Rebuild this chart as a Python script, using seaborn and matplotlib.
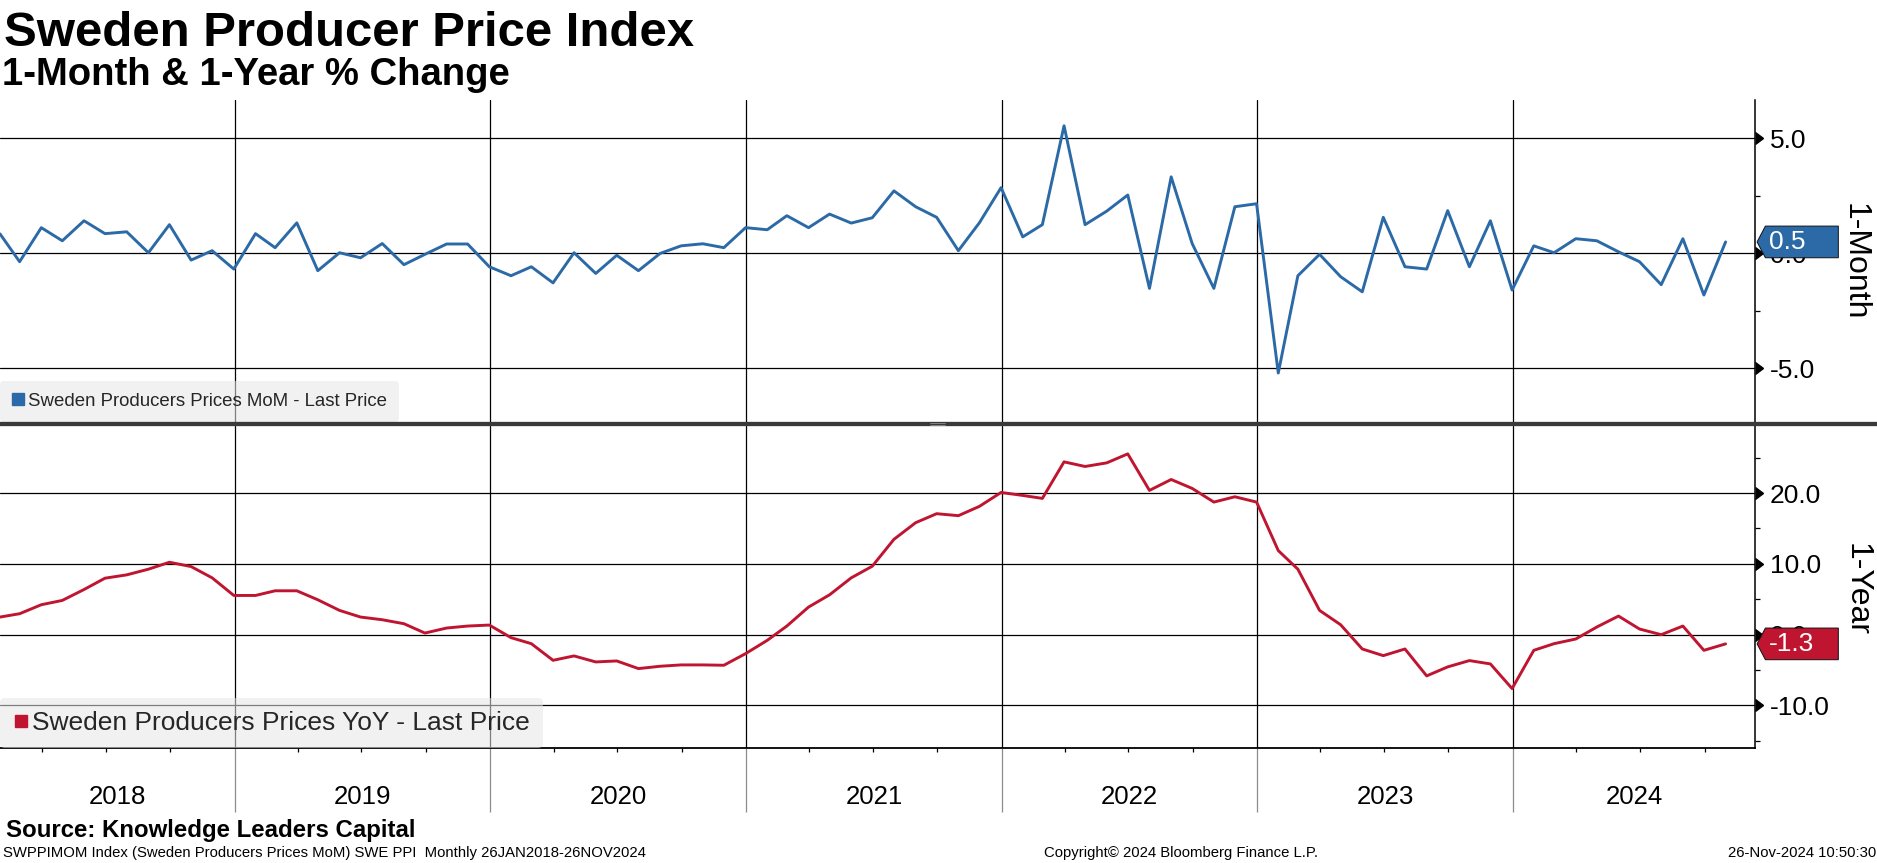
import numpy as np
import pandas as pd
import seaborn as sns
import matplotlib.pyplot as plt
import matplotlib.dates as mdates
import matplotlib.ticker as mticker
import matplotlib.transforms as mtransforms
from matplotlib.lines import Line2D
from matplotlib.patches import Polygon
from matplotlib.markers import CARETRIGHTBASE

# monthly % changes, Jan 2018 .. Oct 2024
mom_2018 = [0.85, -0.36, 1.12, 0.55, 1.42, 0.86, 0.94, 0.03, 1.25, -0.29, 0.12, -0.68]
mom_2019 = [0.86, 0.25, 1.33, -0.75, 0.03, -0.19, 0.43, -0.49, -0.04, 0.41, 0.41, -0.58]
mom_2020 = [-0.97, -0.58, -1.28, 0.03, -0.87, -0.08, -0.75, 0.0, 0.33, 0.42, 0.25, 1.12]
mom_2021 = [1.03, 1.64, 1.12, 1.71, 1.32, 1.55, 2.72, 2.03, 1.57, 0.12, 1.33, 2.86]
mom_2022 = [0.72, 1.25, 5.55, 1.25, 1.84, 2.54, -1.52, 3.33, 0.43, -1.52, 2.03, 2.16]
mom_2023 = [-5.2, -0.97, -0.04, -1.01, -1.67, 1.57, -0.58, -0.68, 1.86, -0.58, 1.42, -1.59]
mom_2024 = [0.33, 0.03, 0.64, 0.55, 0.07, -0.36, -1.36, 0.64, -1.81, 0.5]

yoy_2018 = [2.49, 2.96, 4.23, 4.84, 6.38, 7.98, 8.45, 9.25, 10.23, 9.62, 8.03, 5.54]
yoy_2019 = [5.54, 6.2, 6.2, 4.93, 3.43, 2.49, 2.11, 1.55, 0.23, 0.94, 1.22, 1.36]
yoy_2020 = [-0.42, -1.27, -3.62, -3.0, -3.85, -3.71, -4.79, -4.46, -4.27, -4.27, -4.32, -2.68]
yoy_2021 = [-0.8, 1.22, 3.9, 5.63, 8.03, 9.67, 13.47, 15.82, 17.09, 16.81, 18.12, 20.09]
yoy_2022 = [19.67, 19.25, 24.41, 23.76, 24.27, 25.54, 20.38, 21.92, 20.66, 18.73, 19.48, 18.73]
yoy_2023 = [11.88, 9.25, 3.43, 1.41, -2.02, -2.96, -2.02, -5.82, -4.55, -3.66, -4.13, -7.61]
yoy_2024 = [-2.21, -1.27, -0.61, 1.08, 2.63, 0.8, 0.0, 1.22, -2.21, -1.3]

mom = mom_2018 + mom_2019 + mom_2020 + mom_2021 + mom_2022 + mom_2023 + mom_2024
yoy = yoy_2018 + yoy_2019 + yoy_2020 + yoy_2021 + yoy_2022 + yoy_2023 + yoy_2024

year_labels = ["2018", "2019", "2020", "2021", "2022", "2023", "2024"]
top_ticks = [-5.0, 0.0, 5.0]
bot_ticks = [-10.0, 0.0, 10.0, 20.0]
x_start = pd.Timestamp("2018-01-31")
x_end = pd.Timestamp("2024-12-12")

BLUE = "#2b6aa7"
RED = "#bf1530"

dates = pd.date_range("2018-01-01", periods=len(mom), freq="MS") + pd.offsets.MonthEnd(0)
df = pd.DataFrame({"date": dates, "mom": mom, "yoy": yoy})

sns.set_theme(style="white")
plt.rcParams["font.family"] = ["Liberation Sans", "DejaVu Sans"]
plt.rcParams["axes.unicode_minus"] = False

fig = plt.figure(figsize=(18.77, 8.63), dpi=100)
ax_top = fig.add_axes([0.0, 0.511, 0.935, 0.3731])
ax_bot = fig.add_axes([0.0, 0.1329, 0.935, 0.3735])

sns.lineplot(data=df, x="date", y="mom", ax=ax_top, color=BLUE, linewidth=2.1, legend=False)
sns.lineplot(data=df, x="date", y="yoy", ax=ax_bot, color=RED, linewidth=2.1, legend=False)

ax_top.set_ylim(-7.33, 6.67)
ax_bot.set_ylim(-16.05, 29.48)


def style_axis(ax, ticks, minor_step):
    ax.set_xlim(x_start, x_end)
    ax.set_xlabel("")
    ax.set_ylabel("")
    ax.xaxis.set_major_locator(mdates.YearLocator())
    ax.set_yticks(ticks)
    ax.yaxis.set_minor_locator(mticker.MultipleLocator(minor_step))
    ax.yaxis.set_major_formatter(mticker.FormatStrFormatter("%.1f"))
    ax.yaxis.tick_right()
    ax.grid(True, which="major", color="black", linewidth=0.9)
    ax.tick_params(axis="y", which="major", length=0, pad=10.5, labelsize=19,
                   labelcolor="black")
    ax.tick_params(axis="y", which="minor", right=True, left=False, length=3.6,
                   width=0.9, color="black")
    for side in ["left", "top", "bottom"]:
        ax.spines[side].set_visible(False)
    ax.spines["right"].set_color("black")
    ax.spines["right"].set_linewidth(1.1)
    # bloomberg style arrow heads on the major ticks
    ax.plot(np.ones(len(ticks)), ticks, transform=ax.get_yaxis_transform(),
            marker=CARETRIGHTBASE, markersize=8, color="black", linestyle="none",
            clip_on=False, zorder=5)


style_axis(ax_top, top_ticks, 2.5)
style_axis(ax_bot, bot_ticks, 5.0)

ax_top.tick_params(axis="x", which="both", bottom=False, labelbottom=False)

ax_bot.spines["bottom"].set_visible(True)
ax_bot.spines["bottom"].set_color("black")
ax_bot.spines["bottom"].set_linewidth(1.3)
ax_bot.xaxis.set_minor_locator(mdates.MonthLocator(bymonth=[4, 7, 10]))
ax_bot.tick_params(axis="x", which="major", bottom=True, direction="out", length=46,
                   width=0.9, color="#8c8c8c", labelbottom=False)
ax_bot.tick_params(axis="x", which="minor", bottom=True, direction="out", length=3.2,
                   width=0.9, color="black")

# year labels centred on the visible part of each year
xmin, xmax = ax_bot.get_xlim()
for label in year_labels:
    y0 = mdates.date2num(pd.Timestamp(f"{label}-01-01"))
    y1 = mdates.date2num(pd.Timestamp(f"{int(label) + 1}-01-01"))
    centre = (max(y0, xmin) + min(y1, xmax)) / 2
    ax_bot.text(centre, -0.151, label, transform=ax_bot.get_xaxis_transform(),
                ha="center", va="center", fontsize=18.6, color="black")

# legends
top_handle = Line2D([], [], marker="s", color=BLUE, linestyle="none", markersize=8)
ax_top.legend([top_handle], ["Sweden Producers Prices MoM - Last Price"],
              loc="lower left", bbox_to_anchor=(0, 0), borderaxespad=0,
              fontsize=13.4, borderpad=0.65, handlelength=0.65, handletextpad=0.2,
              facecolor="#e6e6e6", edgecolor="none", framealpha=0.55)
bot_handle = Line2D([], [], marker="s", color=RED, linestyle="none", markersize=8.3)
ax_bot.legend([bot_handle], ["Sweden Producers Prices YoY - Last Price"],
              loc="lower left", bbox_to_anchor=(0, 0), borderaxespad=0,
              fontsize=19, borderpad=0.5, handlelength=0.6, handletextpad=0.12,
              facecolor="#e6e6e6", edgecolor="none", framealpha=0.55)


def last_value_box(ax, value, color):
    trans = (mtransforms.Affine2D().scale(fig.dpi / 72.0)
             + mtransforms.ScaledTranslation(1.0, value, ax.get_yaxis_transform()))
    pts = [(1.5, 0), (7.5, 11.4), (60, 11.4), (60, -11.4), (7.5, -11.4)]
    ax.add_patch(Polygon(pts, closed=True, facecolor=color, edgecolor="#111111",
                         linewidth=0.7, transform=trans, clip_on=False, zorder=10))
    ax.text(10.2, 0, f"{value:.1f}", transform=trans, ha="left", va="center",
            fontsize=19, color="white", clip_on=False, zorder=11)


last_value_box(ax_top, df["mom"].iloc[-1], BLUE)
last_value_box(ax_bot, df["yoy"].iloc[-1], RED)

ax_top.text(1.057, 0.497, "1-Month", transform=ax_top.transAxes, rotation=270,
            ha="center", va="center", fontsize=23, color="black")
ax_bot.text(1.058, 0.494, "1-Year", transform=ax_bot.transAxes, rotation=270,
            ha="center", va="center", fontsize=23, color="black")

# panel separator with its small handle
fig.add_artist(Line2D([0, 1], [0.5087, 0.5087], transform=fig.transFigure,
                      color="#3a3a3a", linewidth=3.1, zorder=3))
for yy in (0.5079, 0.5095):
    fig.add_artist(Line2D([0.4955, 0.5035], [yy, yy], transform=fig.transFigure,
                          color="#a0a0a0", linewidth=0.5, zorder=4))

# titles and footer
fig.text(0.002, 0.9467, "Sweden Producer Price Index", fontsize=35.4,
         fontweight="bold", va="baseline", color="black")
fig.text(0.001, 0.9015, "1-Month & 1-Year % Change", fontsize=27.5,
         fontweight="bold", va="baseline", color="black")
fig.text(0.003, 0.0301, "Source: Knowledge Leaders Capital", fontsize=17.3,
         fontweight="bold", va="baseline", color="black")
fig.text(0.0016, 0.007,
         "SWPPIMOM Index (Sweden Producers Prices MoM) SWE PPI  Monthly 26JAN2018-26NOV2024",
         fontsize=10.7, va="baseline", color="black")
fig.text(0.629, 0.007, "Copyright\u00a9 2024 Bloomberg Finance L.P.", fontsize=10.7,
         ha="center", va="baseline", color="black")
fig.text(0.9995, 0.007, "26-Nov-2024 10:50:30", fontsize=10.7, ha="right",
         va="baseline", color="black")

fig.savefig("out.png", dpi=100)
